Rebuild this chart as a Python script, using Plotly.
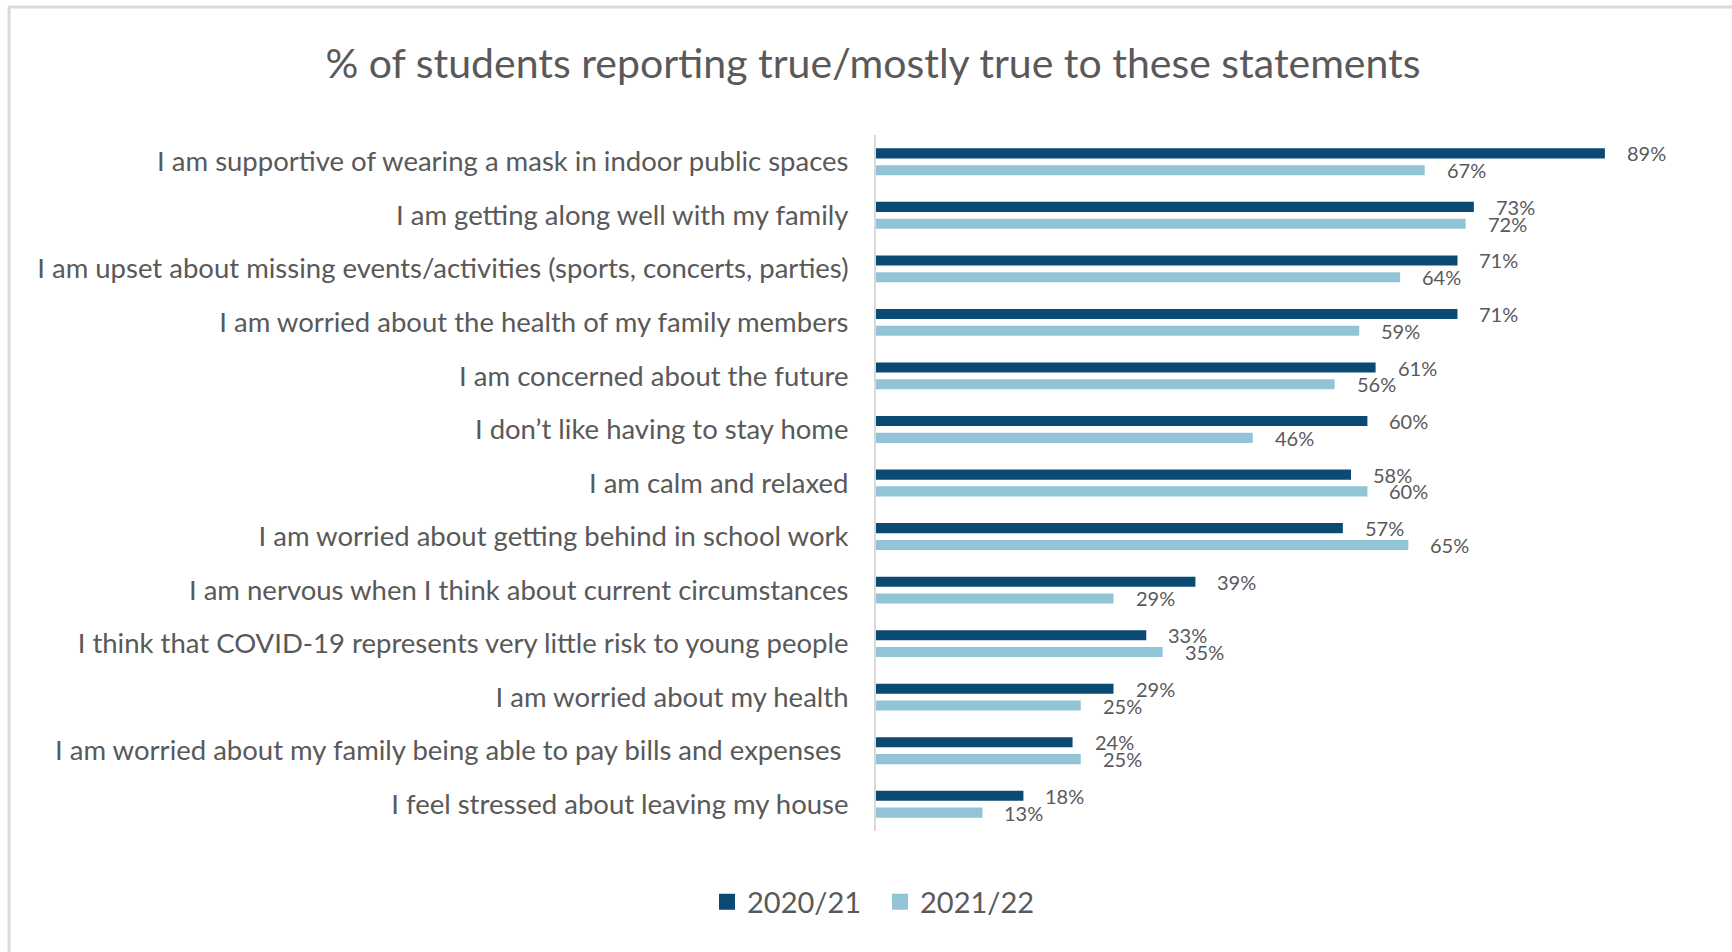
import plotly.graph_objects as go

# Survey statements (top to bottom) and % answering true/mostly true
statements = [
    "I am supportive of wearing a mask in indoor public spaces",
    "I am getting along well with my family",
    "I am upset about missing events/activities (sports, concerts, parties)",
    "I am worried about the health of my family members",
    "I am concerned about the future",
    "I don\u2019t like having to stay home",
    "I am calm and relaxed",
    "I am worried about getting behind in school work",
    "I am nervous when I think about current circumstances",
    "I think that COVID-19 represents very little risk to young people",
    "I am worried about my health",
    "I am worried about my family being able to pay bills and expenses ",
    "I feel stressed about leaving my house",
]
pct_2020_21 = [89, 73, 71, 71, 61, 60, 58, 57, 39, 33, 29, 24, 18]
pct_2021_22 = [67, 72, 64, 59, 56, 46, 60, 65, 29, 35, 25, 25, 13]
series_names = ["2020/21", "2021/22"]
title_text = "% of students reporting true/mostly true to these statements"

DARK = "#0b4a73"
LIGHT = "#92c4d8"
GREY_TEXT = "#595959"
FONT = "Lato, 'Open Sans', sans-serif"

W, H = 1732, 952
M_L, M_R, M_T, M_B = 876, 37, 135, 121
PLOT_W = W - M_L - M_R
PLOT_H = H - M_T - M_B


def px_x(px):
    return (px - M_L) / PLOT_W


def px_y(py):
    return (H - M_B - py) / PLOT_H


fig = go.Figure()
series = [(series_names[0], pct_2020_21, DARK),
          (series_names[1], pct_2021_22, LIGHT)]
for name, vals, col in series:
    fig.add_trace(go.Bar(
        name=name, y=statements, x=vals, orientation="h",
        marker=dict(color=col, line=dict(width=0)),
        hoverinfo="x+y", showlegend=False, legendgroup=name,
    ))
# Legend entries with larger square swatches
for name, vals, col in series:
    fig.add_trace(go.Scatter(
        name=name, x=[None], y=[None], mode="markers",
        marker=dict(symbol="square", size=17, color=col),
        legendgroup=name, showlegend=True, hoverinfo="skip",
    ))

# Value labels placed just past the end of each bar
row_px = PLOT_H / len(statements)
bargap, groupgap = 0.372, 0.40
slot_px = row_px * (1 - bargap) / 2
annotations = []
for vals, sign in [(pct_2020_21, -1), (pct_2021_22, 1)]:
    for cat, v in zip(statements, vals):
        annotations.append(dict(
            x=v, y=cat, xref="x", yref="y", text=f"{v}%",
            showarrow=False, xanchor="left", yanchor="middle",
            xshift=20, yshift=-sign * slot_px / 2,
            font=dict(family=FONT, size=20, color=GREY_TEXT),
        ))

# Chart-area frame (left and top edges)
shapes = [
    dict(type="line", xref="paper", yref="paper",
         x0=px_x(9), x1=px_x(9), y0=px_y(960), y1=px_y(7),
         line=dict(color="#d9d9d9", width=3)),
    dict(type="line", xref="paper", yref="paper",
         x0=px_x(8), x1=px_x(1740), y0=px_y(7), y1=px_y(7),
         line=dict(color="#d9d9d9", width=3)),
]

fig.update_layout(
    width=W, height=H,
    margin=dict(l=M_L, r=M_R, t=M_T, b=M_B, autoexpand=False),
    paper_bgcolor="white", plot_bgcolor="white",
    barmode="group", bargap=bargap, bargroupgap=groupgap,
    title=dict(text=title_text, x=873 / W, xref="container", xanchor="center",
               y=1 - 64 / H, yref="container", yanchor="middle",
               font=dict(family=FONT, size=41, color=GREY_TEXT)),
    xaxis=dict(range=[0, 100], showgrid=False, zeroline=False,
               showticklabels=False, showline=False, fixedrange=True),
    yaxis=dict(autorange="reversed", showgrid=False, zeroline=False,
               showline=True, linecolor="#d9d9d9", linewidth=2,
               ticks="", ticklabelstandoff=20,
               tickfont=dict(family=FONT, size=27.5, color=GREY_TEXT)),
    legend=dict(orientation="h", x=px_x(880), xanchor="center",
                y=px_y(902), yanchor="middle",
                font=dict(family=FONT, size=29, color=GREY_TEXT),
                itemwidth=30, traceorder="normal",
                entrywidth=128, entrywidthmode="pixels"),
    annotations=annotations,
    shapes=shapes,
    showlegend=True,
)

fig.write_html("out.html")
